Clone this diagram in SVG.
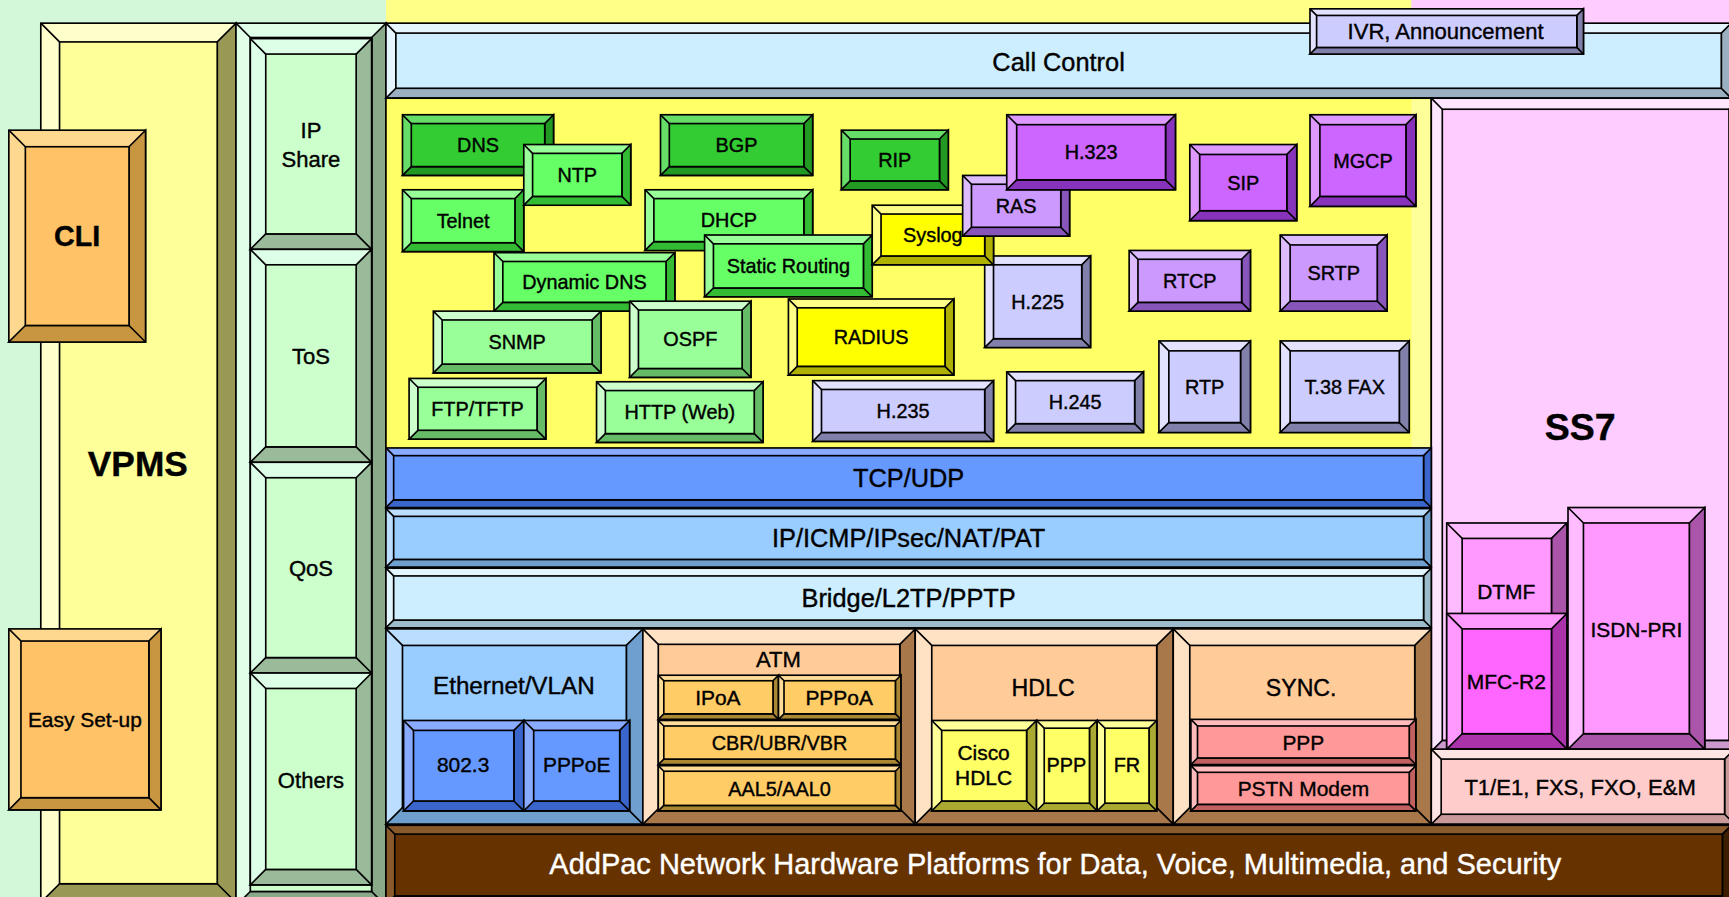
<svg xmlns="http://www.w3.org/2000/svg" width="1729" height="897" viewBox="0 0 1729 897">
<style>
.bx rect,.bx path{stroke:#000;stroke-width:1.5}
.bx .k{fill:none}
text{font-family:"Liberation Sans",Arial,sans-serif;font-size:18px;text-anchor:middle;dominant-baseline:central;fill:#000;stroke:#000;stroke-width:0.35}
.big{font-weight:bold}
.vp .l{fill:#ffffcc}.vp .d{fill:#999955}.vp .f{fill:#ffff99}
.or .l{fill:#ffd890}.or .d{fill:#c89640}.or .f{fill:#ffc266}
.gc .l{fill:#e0ffe8}.gc .d{fill:#88aa88}.gc .f{fill:#ccffcc}
.gs .l{fill:#ddffe8}.gs .d{fill:#99bb99}.gs .f{fill:#ccffcc}
.cc .l{fill:#e6f6ff}.cc .d{fill:#9ab0c0}.cc .f{fill:#cceeff}
.lv .l{fill:#e2e2ff}.lv .d{fill:#8080aa}.lv .f{fill:#ccccff}
.pk .l{fill:#ffe6ff}.pk .d{fill:#cc99cc}.pk .f{fill:#ffccff}
.b1 .l{fill:#88aaff}.b1 .d{fill:#3a66cc}.b1 .f{fill:#6699ff}
.b2 .l{fill:#bbddff}.b2 .d{fill:#6f9fcf}.b2 .f{fill:#99ccff}
.b3 .l{fill:#e2f6ff}.b3 .d{fill:#9cbccc}.b3 .f{fill:#cceeff}
.pe .l{fill:#ffe2c4}.pe .d{fill:#a8784a}.pe .f{fill:#ffcc99}
.og .l{fill:#ffdd99}.og .d{fill:#aa8833}.og .f{fill:#ffcc66}
.ye .l{fill:#ffff99}.ye .d{fill:#aaaa33}.ye .f{fill:#ffff66}
.yl .l{fill:#ffff88}.yl .d{fill:#b0b000}.yl .f{fill:#ffff00}
.rd .l{fill:#ffbbbb}.rd .d{fill:#c06060}.rd .f{fill:#ff9999}
.m1 .l{fill:#ffbbff}.m1 .d{fill:#aa55aa}.m1 .f{fill:#ff99ff}
.m2 .l{fill:#ff99ff}.m2 .d{fill:#aa33aa}.m2 .f{fill:#ff66ff}
.rs .l{fill:#ffe4e4}.rs .d{fill:#c89a9a}.rs .f{fill:#ffcccc}
.br .l{fill:#8b5a2b}.br .d{fill:#3d1f00}.br .f{fill:#663300}
.g1 .l{fill:#66dd66}.g1 .d{fill:#229922}.g1 .f{fill:#33cc33}
.g2 .l{fill:#99ff99}.g2 .d{fill:#33bb33}.g2 .f{fill:#66ff66}
.g3 .l{fill:#ccffcc}.g3 .d{fill:#66bb66}.g3 .f{fill:#99ff99}
.p1 .l{fill:#dd99ff}.p1 .d{fill:#8833bb}.p1 .f{fill:#cc66ff}
.p2 .l{fill:#ddbbff}.p2 .d{fill:#8855bb}.p2 .f{fill:#cc99ff}
</style>
<g transform="scale(1.10268 1.10332)">
<g id="background">
<rect x="0" y="0" width="1570" height="820" fill="#d3f7d9"/>
<rect x="350" y="0" width="930" height="40" fill="#ffff88"/>
<rect x="1280" y="0" width="290" height="95" fill="#ffccff"/>
</g>

<g id="n-vpms" class="bx vp"><rect class="l" x="37" y="21" width="177" height="797"/><path class="d" d="M214 21V818H37L54 801H197V38Z"/><path class="k" d="M37 21L54 38M214 818L197 801"/><rect class="f" x="54" y="38" width="143" height="763"/><text class="big" x="125" y="420" style="font-size:32px">VPMS</text></g>
<g id="n-cli" class="bx or"><rect class="l" x="8" y="118" width="124" height="192"/><path class="d" d="M132 118V310H8L23 295H117V133Z"/><path class="k" d="M8 118L23 133M132 310L117 295"/><rect class="f" x="23" y="133" width="94" height="162"/><text class="big" x="70" y="214" style="font-size:26px">CLI</text></g>
<g id="n-easy" class="bx or"><rect class="l" x="8" y="570" width="138" height="164"/><path class="d" d="M146 570V734H8L19 723H135V581Z"/><path class="k" d="M8 570L19 581M146 734L135 723"/><rect class="f" x="19" y="581" width="116" height="142"/><text x="77" y="652" style="font-size:19px">Easy Set-up</text></g>

<g id="n-column" class="bx gc"><rect class="l" x="214" y="21" width="136" height="800"/><path class="d" d="M350 21V821H214L227 808H337V34Z"/><path class="k" d="M214 21L227 34M350 821L337 808"/><rect class="f" x="227" y="34" width="110" height="774"/></g>
<g id="n-ipshare" class="bx gs"><rect class="l" x="227" y="35" width="110" height="191"/><path class="d" d="M337 35V226H227L241 212H323V49Z"/><path class="k" d="M227 35L241 49M337 226L323 212"/><rect class="f" x="241" y="49" width="82" height="163"/><text x="282" y="118" style="font-size:20px">IP</text><text x="282" y="145" style="font-size:20px">Share</text></g>
<g id="n-tos" class="bx gs"><rect class="l" x="227" y="226" width="110" height="193"/><path class="d" d="M337 226V419H227L241 405H323V240Z"/><path class="k" d="M227 226L241 240M337 419L323 405"/><rect class="f" x="241" y="240" width="82" height="165"/><text x="282" y="323" style="font-size:20px">ToS</text></g>
<g id="n-qos" class="bx gs"><rect class="l" x="227" y="419" width="110" height="191"/><path class="d" d="M337 419V610H227L241 596H323V433Z"/><path class="k" d="M227 419L241 433M337 610L323 596"/><rect class="f" x="241" y="433" width="82" height="163"/><text x="282" y="515" style="font-size:20px">QoS</text></g>
<g id="n-others" class="bx gs"><rect class="l" x="227" y="610" width="110" height="192"/><path class="d" d="M337 610V802H227L241 788H323V624Z"/><path class="k" d="M227 610L241 624M337 802L323 788"/><rect class="f" x="241" y="624" width="82" height="164"/><text x="282" y="707" style="font-size:20px">Others</text></g>

<g id="n-callcontrol" class="bx cc"><rect class="l" x="350" y="21" width="1220" height="68"/><path class="d" d="M1570 21V89H350L359 80H1561V30Z"/><path class="k" d="M350 21L359 30M1570 89L1561 80"/><rect class="f" x="359" y="30" width="1202" height="50"/><text x="960" y="56" style="font-size:23px">Call Control</text></g>
<g id="n-ivr" class="bx lv"><rect class="l" x="1188" y="8" width="248" height="41"/><path class="d" d="M1436 8V49H1188L1194 43H1430V14Z"/><path class="k" d="M1188 8L1194 14M1436 49L1430 43"/><rect class="f" x="1194" y="14" width="236" height="29"/><text x="1311" y="29" style="font-size:20px">IVR, Announcement</text></g>

<g id="n-protocol-area"><rect x="350" y="89" width="948" height="318" fill="#ffff66" stroke="#000" stroke-width="1.5"/><rect x="1280" y="90" width="17" height="316" fill="#ffff99"/></g>

<g id="n-ss7" class="bx pk"><rect class="l" x="1298" y="89" width="280" height="592"/><path class="d" d="M1578 89V681H1298L1308 671H1568V99Z"/><path class="k" d="M1298 89L1308 99"/><rect class="f" x="1308" y="99" width="260" height="572"/><text class="big" x="1433" y="387" style="font-size:34px">SS7</text></g>

<g id="n-dns" class="bx g1"><rect class="l" x="365" y="104" width="137" height="55"/><path class="d" d="M502 104V159H365L373 151H494V112Z"/><path class="k" d="M365 104L373 112M502 159L494 151"/><rect class="f" x="373" y="112" width="121" height="39"/><text x="433.5" y="131.5">DNS</text></g>
<g id="n-bgp" class="bx g1"><rect class="l" x="599" y="104" width="138" height="55"/><path class="d" d="M737 104V159H599L607 151H729V112Z"/><path class="k" d="M599 104L607 112M737 159L729 151"/><rect class="f" x="607" y="112" width="122" height="39"/><text x="668" y="131.5">BGP</text></g>
<g id="n-rip" class="bx g1"><rect class="l" x="763" y="118" width="97" height="54"/><path class="d" d="M860 118V172H763L771 164H852V126Z"/><path class="k" d="M763 118L771 126M860 172L852 164"/><rect class="f" x="771" y="126" width="81" height="38"/><text x="811.5" y="145">RIP</text></g>
<g id="n-telnet" class="bx g2"><rect class="l" x="365" y="172" width="110" height="56"/><path class="d" d="M475 172V228H365L373 220H467V180Z"/><path class="k" d="M365 172L373 180M475 228L467 220"/><rect class="f" x="373" y="180" width="94" height="40"/><text x="420" y="200">Telnet</text></g>
<g id="n-ntp" class="bx g2"><rect class="l" x="475" y="131" width="97" height="55"/><path class="d" d="M572 131V186H475L483 178H564V139Z"/><path class="k" d="M475 131L483 139M572 186L564 178"/><rect class="f" x="483" y="139" width="81" height="39"/><text x="523.5" y="158.5">NTP</text></g>
<g id="n-dhcp" class="bx g2"><rect class="l" x="585" y="172" width="152" height="55"/><path class="d" d="M737 172V227H585L593 219H729V180Z"/><path class="k" d="M585 172L593 180M737 227L729 219"/><rect class="f" x="593" y="180" width="136" height="39"/><text x="661" y="199.5">DHCP</text></g>
<g id="n-snmp" class="bx g3"><rect class="l" x="393" y="282" width="152" height="56"/><path class="d" d="M545 282V338H393L401 330H537V290Z"/><path class="k" d="M393 282L401 290M545 338L537 330"/><rect class="f" x="401" y="290" width="136" height="40"/><text x="469" y="310">SNMP</text></g>
<g id="n-ddns" class="bx g2"><rect class="l" x="448" y="229" width="164" height="53"/><path class="d" d="M612 229V282H448L456 274H604V237Z"/><path class="k" d="M448 229L456 237M612 282L604 274"/><rect class="f" x="456" y="237" width="148" height="37"/><text x="530" y="255.5">Dynamic DNS</text></g>
<g id="n-static" class="bx g2"><rect class="l" x="639" y="213" width="152" height="56"/><path class="d" d="M791 213V269H639L647 261H783V221Z"/><path class="k" d="M639 213L647 221M791 269L783 261"/><rect class="f" x="647" y="221" width="136" height="40"/><text x="715" y="241">Static Routing</text></g>
<g id="n-radius" class="bx yl"><rect class="l" x="715" y="271" width="150" height="69"/><path class="d" d="M865 271V340H715L723 332H857V279Z"/><path class="k" d="M715 271L723 279M865 340L857 332"/><rect class="f" x="723" y="279" width="134" height="53"/><text x="790" y="305.5">RADIUS</text></g>
<g id="n-ospf" class="bx g3"><rect class="l" x="571" y="273" width="110" height="69"/><path class="d" d="M681 273V342H571L579 334H673V281Z"/><path class="k" d="M571 273L579 281M681 342L673 334"/><rect class="f" x="579" y="281" width="94" height="53"/><text x="626" y="307.5">OSPF</text></g>
<g id="n-ftp" class="bx g3"><rect class="l" x="371" y="343" width="124" height="55"/><path class="d" d="M495 343V398H371L379 390H487V351Z"/><path class="k" d="M371 343L379 351M495 398L487 390"/><rect class="f" x="379" y="351" width="108" height="39"/><text x="433" y="370.5">FTP/TFTP</text></g>
<g id="n-http" class="bx g3"><rect class="l" x="541" y="346" width="151" height="55"/><path class="d" d="M692 346V401H541L549 393H684V354Z"/><path class="k" d="M541 346L549 354M692 401L684 393"/><rect class="f" x="549" y="354" width="135" height="39"/><text x="616.5" y="373.5">HTTP (Web)</text></g>
<g id="n-h235" class="bx lv"><rect class="l" x="737" y="345" width="164" height="55"/><path class="d" d="M901 345V400H737L745 392H893V353Z"/><path class="k" d="M737 345L745 353M901 400L893 392"/><rect class="f" x="745" y="353" width="148" height="39"/><text x="819" y="372.5">H.235</text></g>
<g id="n-h225" class="bx lv"><rect class="l" x="893" y="232" width="96" height="83"/><path class="d" d="M989 232V315H893L901 307H981V240Z"/><path class="k" d="M893 232L901 240M989 315L981 307"/><rect class="f" x="901" y="240" width="80" height="67"/><text x="941" y="273.5">H.225</text></g>
<g id="n-syslog" class="bx yl"><rect class="l" x="791" y="186" width="110" height="54"/><path class="d" d="M901 186V240H791L799 232H893V194Z"/><path class="k" d="M791 186L799 194M901 240L893 232"/><rect class="f" x="799" y="194" width="94" height="38"/><text x="846" y="213">Syslog</text></g>
<g id="n-ras" class="bx p2"><rect class="l" x="873" y="159" width="97" height="55"/><path class="d" d="M970 159V214H873L881 206H962V167Z"/><path class="k" d="M873 159L881 167M970 214L962 206"/><rect class="f" x="881" y="167" width="81" height="39"/><text x="921.5" y="186.5">RAS</text></g>
<g id="n-h323" class="bx p1"><rect class="l" x="913" y="104" width="153" height="68"/><path class="d" d="M1066 104V172H913L922 163H1057V113Z"/><path class="k" d="M913 104L922 113M1066 172L1057 163"/><rect class="f" x="922" y="113" width="135" height="50"/><text x="989.5" y="138">H.323</text></g>
<g id="n-sip" class="bx p1"><rect class="l" x="1079" y="131" width="97" height="69"/><path class="d" d="M1176 131V200H1079L1088 191H1167V140Z"/><path class="k" d="M1079 131L1088 140M1176 200L1167 191"/><rect class="f" x="1088" y="140" width="79" height="51"/><text x="1127.5" y="165.5">SIP</text></g>
<g id="n-mgcp" class="bx p1"><rect class="l" x="1188" y="104" width="96" height="83"/><path class="d" d="M1284 104V187H1188L1197 178H1275V113Z"/><path class="k" d="M1188 104L1197 113M1284 187L1275 178"/><rect class="f" x="1197" y="113" width="78" height="65"/><text x="1236" y="145.5">MGCP</text></g>
<g id="n-rtcp" class="bx p2"><rect class="l" x="1024" y="227" width="110" height="55"/><path class="d" d="M1134 227V282H1024L1032 274H1126V235Z"/><path class="k" d="M1024 227L1032 235M1134 282L1126 274"/><rect class="f" x="1032" y="235" width="94" height="39"/><text x="1079" y="254.5">RTCP</text></g>
<g id="n-srtp" class="bx p2"><rect class="l" x="1161" y="213" width="97" height="69"/><path class="d" d="M1258 213V282H1161L1170 273H1249V222Z"/><path class="k" d="M1161 213L1170 222M1258 282L1249 273"/><rect class="f" x="1170" y="222" width="79" height="51"/><text x="1209.5" y="247.5">SRTP</text></g>
<g id="n-h245" class="bx lv"><rect class="l" x="913" y="337" width="124" height="55"/><path class="d" d="M1037 337V392H913L921 384H1029V345Z"/><path class="k" d="M913 337L921 345M1037 392L1029 384"/><rect class="f" x="921" y="345" width="108" height="39"/><text x="975" y="364.5">H.245</text></g>
<g id="n-rtp" class="bx lv"><rect class="l" x="1051" y="309" width="83" height="83"/><path class="d" d="M1134 309V392H1051L1060 383H1125V318Z"/><path class="k" d="M1051 309L1060 318M1134 392L1125 383"/><rect class="f" x="1060" y="318" width="65" height="65"/><text x="1092.5" y="350.5">RTP</text></g>
<g id="n-t38" class="bx lv"><rect class="l" x="1161" y="309" width="117" height="83"/><path class="d" d="M1278 309V392H1161L1170 383H1269V318Z"/><path class="k" d="M1161 309L1170 318M1278 392L1269 383"/><rect class="f" x="1170" y="318" width="99" height="65"/><text x="1219.5" y="350.5">T.38 FAX</text></g>

<g id="n-tcpudp" class="bx b1"><rect class="l" x="350" y="406" width="948" height="54"/><path class="d" d="M1298 406V460H350L357 453H1291V413Z"/><path class="k" d="M350 406L357 413M1298 460L1291 453"/><rect class="f" x="357" y="413" width="934" height="40"/><text x="824" y="433" style="font-size:23px">TCP/UDP</text></g>
<g id="n-ip" class="bx b2"><rect class="l" x="350" y="461" width="948" height="53"/><path class="d" d="M1298 461V514H350L357 507H1291V468Z"/><path class="k" d="M350 461L357 468M1298 514L1291 507"/><rect class="f" x="357" y="468" width="934" height="39"/><text x="824" y="488" style="font-size:23px">IP/ICMP/IPsec/NAT/PAT</text></g>
<g id="n-bridge" class="bx b3"><rect class="l" x="350" y="515" width="948" height="54"/><path class="d" d="M1298 515V569H350L357 562H1291V522Z"/><path class="k" d="M350 515L357 522M1298 569L1291 562"/><rect class="f" x="357" y="522" width="934" height="40"/><text x="824" y="542" style="font-size:23px">Bridge/L2TP/PPTP</text></g>

<g id="n-ethernet" class="bx b2"><rect class="l" x="350" y="570" width="233" height="177"/><path class="d" d="M583 570V747H350L365 732H568V585Z"/><path class="k" d="M350 570L365 585M583 747L568 732"/><rect class="f" x="365" y="585" width="203" height="147"/><text x="466" y="621" style="font-size:22px">Ethernet/VLAN</text></g>
<g id="n-8023" class="bx b1"><rect class="l" x="366" y="653" width="109" height="82"/><path class="d" d="M475 653V735H366L375 726H466V662Z"/><path class="k" d="M366 653L375 662M475 735L466 726"/><rect class="f" x="375" y="662" width="91" height="64"/><text x="420" y="693" style="font-size:19px">802.3</text></g>
<g id="n-pppoe" class="bx b1"><rect class="l" x="475" y="653" width="96" height="82"/><path class="d" d="M571 653V735H475L484 726H562V662Z"/><path class="k" d="M475 653L484 662M571 735L562 726"/><rect class="f" x="484" y="662" width="78" height="64"/><text x="523" y="693" style="font-size:19px">PPPoE</text></g>

<g id="n-atm" class="bx pe"><rect class="l" x="583" y="570" width="247" height="177"/><path class="d" d="M830 570V747H583L597 733H816V584Z"/><path class="k" d="M583 570L597 584M830 747L816 733"/><rect class="f" x="597" y="584" width="219" height="149"/><text x="706" y="598" style="font-size:20px">ATM</text></g>
<g id="n-ipoa" class="bx og"><rect class="l" x="597" y="612" width="109" height="40"/><path class="d" d="M706 612V652H597L602 647H701V617Z"/><path class="k" d="M597 612L602 617M706 652L701 647"/><rect class="f" x="602" y="617" width="99" height="30"/><text x="651" y="632" style="font-size:19px">IPoA</text></g>
<g id="n-pppoa" class="bx og"><rect class="l" x="706" y="612" width="111" height="40"/><path class="d" d="M817 612V652H706L711 647H812V617Z"/><path class="k" d="M706 612L711 617M817 652L812 647"/><rect class="f" x="711" y="617" width="101" height="30"/><text x="761" y="632" style="font-size:19px">PPPoA</text></g>
<g id="n-cbr" class="bx og"><rect class="l" x="597" y="653" width="220" height="40"/><path class="d" d="M817 653V693H597L602 688H812V658Z"/><path class="k" d="M597 653L602 658M817 693L812 688"/><rect class="f" x="602" y="658" width="210" height="30"/><text x="707" y="673">CBR/UBR/VBR</text></g>
<g id="n-aal" class="bx og"><rect class="l" x="597" y="694" width="220" height="41"/><path class="d" d="M817 694V735H597L602 730H812V699Z"/><path class="k" d="M597 694L602 699M817 735L812 730"/><rect class="f" x="602" y="699" width="210" height="31"/><text x="707" y="715">AAL5/AAL0</text></g>

<g id="n-hdlc" class="bx pe"><rect class="l" x="830" y="570" width="234" height="177"/><path class="d" d="M1064 570V747H830L845 732H1049V585Z"/><path class="k" d="M830 570L845 585M1064 747L1049 732"/><rect class="f" x="845" y="585" width="204" height="147"/><text x="946" y="624" style="font-size:21px">HDLC</text></g>
<g id="n-cisco" class="bx ye"><rect class="l" x="845" y="653" width="95" height="82"/><path class="d" d="M940 653V735H845L854 726H931V662Z"/><path class="k" d="M845 653L854 662M940 735L931 726"/><rect class="f" x="854" y="662" width="77" height="64"/><text x="892" y="682" style="font-size:19px">Cisco</text><text x="892" y="705" style="font-size:19px">HDLC</text></g>
<g id="n-ppp1" class="bx ye"><rect class="l" x="940" y="653" width="55" height="82"/><path class="d" d="M995 653V735H940L947 728H988V660Z"/><path class="k" d="M940 653L947 660M995 735L988 728"/><rect class="f" x="947" y="660" width="41" height="68"/><text x="967" y="693">PPP</text></g>
<g id="n-fr" class="bx ye"><rect class="l" x="995" y="653" width="54" height="82"/><path class="d" d="M1049 653V735H995L1002 728H1042V660Z"/><path class="k" d="M995 653L1002 660M1049 735L1042 728"/><rect class="f" x="1002" y="660" width="40" height="68"/><text x="1022" y="693">FR</text></g>

<g id="n-sync" class="bx pe"><rect class="l" x="1064" y="570" width="234" height="177"/><path class="d" d="M1298 570V747H1064L1079 732H1283V585Z"/><path class="k" d="M1064 570L1079 585M1298 747L1283 732"/><rect class="f" x="1079" y="585" width="204" height="147"/><text x="1180" y="624" style="font-size:21px">SYNC.</text></g>
<g id="n-ppp2" class="bx rd"><rect class="l" x="1080" y="652" width="204" height="41"/><path class="d" d="M1284 652V693H1080L1086 687H1278V658Z"/><path class="k" d="M1080 652L1086 658M1284 693L1278 687"/><rect class="f" x="1086" y="658" width="192" height="29"/><text x="1182" y="673" style="font-size:19px">PPP</text></g>
<g id="n-pstn" class="bx rd"><rect class="l" x="1080" y="694" width="204" height="41"/><path class="d" d="M1284 694V735H1080L1086 729H1278V700Z"/><path class="k" d="M1080 694L1086 700M1284 735L1278 729"/><rect class="f" x="1086" y="700" width="192" height="29"/><text x="1182" y="715" style="font-size:19px">PSTN Modem</text></g>

<g id="n-dtmf" class="bx m1"><rect class="l" x="1312" y="474" width="109" height="205"/><path class="d" d="M1421 474V679H1312L1326 665H1407V488Z"/><path class="k" d="M1312 474L1326 488M1421 679L1407 665"/><rect class="f" x="1326" y="488" width="81" height="177"/><text x="1366" y="536" style="font-size:19px">DTMF</text></g>
<g id="n-mfcr2" class="bx m2"><rect class="l" x="1312" y="556" width="109" height="123"/><path class="d" d="M1421 556V679H1312L1326 665H1407V570Z"/><path class="k" d="M1312 556L1326 570M1421 679L1407 665"/><rect class="f" x="1326" y="570" width="81" height="95"/><text x="1366" y="618" style="font-size:19px">MFC-R2</text></g>
<g id="n-isdn" class="bx m1"><rect class="l" x="1422" y="460" width="124" height="219"/><path class="d" d="M1546 460V679H1422L1436 665H1532V474Z"/><path class="k" d="M1422 460L1436 474M1546 679L1532 665"/><rect class="f" x="1436" y="474" width="96" height="191"/><text x="1484" y="571" style="font-size:19px">ISDN-PRI</text></g>
<g id="n-t1e1" class="bx rs"><rect class="l" x="1298" y="679" width="275" height="68"/><path class="d" d="M1573 679V747H1298L1307 738H1564V688Z"/><path class="k" d="M1298 679L1307 688M1573 747L1564 738"/><rect class="f" x="1307" y="688" width="257" height="50"/><text x="1433" y="714" style="font-size:20px">T1/E1, FXS, FXO, E&amp;M</text></g>

<g id="n-addpac" class="bx br"><rect class="l" x="350" y="748" width="1220" height="72"/><path class="d" d="M1570 748V820H350L358 812H1562V756Z"/><path class="k" d="M350 748L358 756"/><rect class="f" x="358" y="756" width="1204" height="56"/><text x="957" y="783" style="font-size:26.3px;fill:#fff;stroke:#fff">AddPac Network Hardware Platforms for Data, Voice, Multimedia, and Security</text></g>

<g id="connectors"></g>
</g>
</svg>
